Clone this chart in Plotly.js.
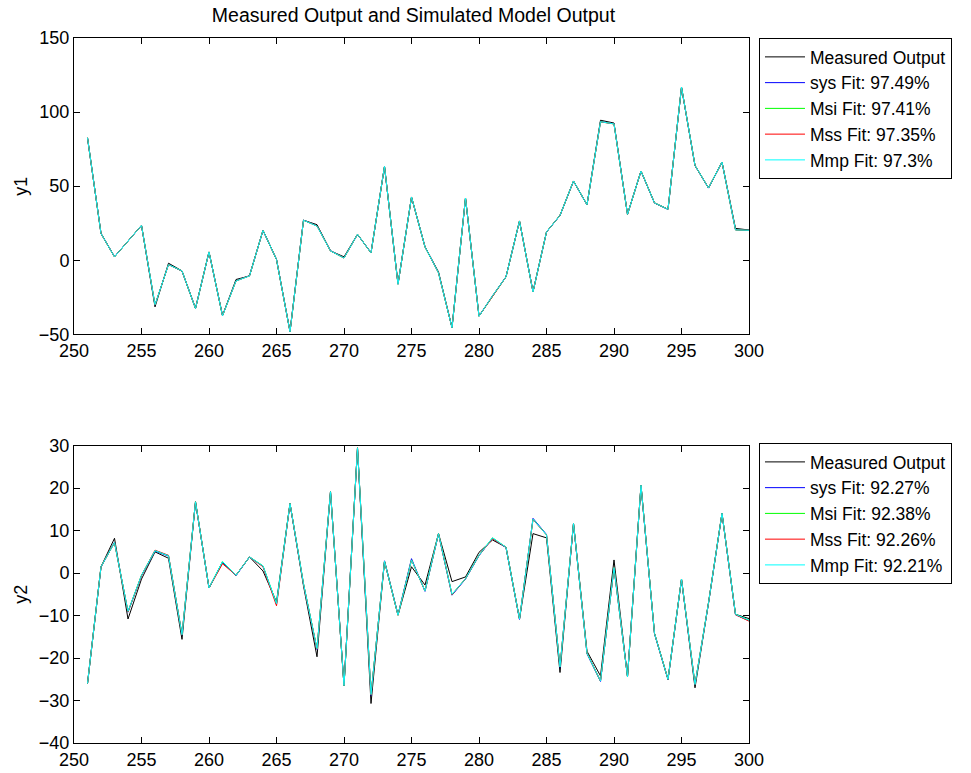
<!DOCTYPE html>
<html>
<head>
<meta charset="utf-8">
<script src="https://cdn.plot.ly/plotly-3.0.1.min.js"></script>
<style>html,body{margin:0;padding:0;background:#fff;}#chart{width:971px;height:773px;}</style>
</head>
<body>
<div id="chart"></div>
<script>
// sample index
const t = [251,252,253,254,255,256,257,258,259,260,261,262,263,264,265,266,267,268,269,270,
           271,272,273,274,275,276,277,278,279,280,281,282,283,284,285,286,287,288,289,290,
           291,292,293,294,295,296,297,298,299,300];

// ---- output y1 ----
const y1Measured = [82.7,18,2.3,13,23.6,-31.5,-2,-7.2,-32.6,5.6,-37.5,-13,-10.6,20.2,0.5,-48.3,27,24,6.3,2.3,
                    17.5,5,63.4,-16.2,42.7,9,-7.9,-45.6,42,-37.8,-24,-11.2,26.5,-21.4,19.1,30.3,53.5,37.5,94.5,92.6,
                    31,60.2,38.7,34.4,116.9,64,48.8,66.3,21.5,20.4];
const y1Sys = [82.5,18.2,2.4,13,23.4,-30.3,-2.8,-7.4,-32.4,5.5,-37.2,-13.8,-10.4,20.1,0.6,-48,27.1,23.3,6.4,1.6,
               17.4,5.1,63.2,-16,42.5,9.1,-8.4,-45.3,41.9,-37.6,-24.1,-11.1,26.4,-21.2,19,30.2,53.3,37.4,93.6,92.1,
               31.1,60.1,38.6,34.3,116.6,63.8,48.7,66.1,20.6,20.2];
const y1Msi = [82.6,18.1,2.3,13,23.5,-30.2,-2.9,-7.3,-32.5,5.6,-37.3,-13.9,-10.5,20.2,0.5,-48.1,27,23.2,6.3,1.5,
               17.5,5,63.3,-16.1,42.6,9,-8.5,-45.4,42,-37.7,-24,-11.2,26.5,-21.3,19.1,30.3,53.4,37.5,93.5,92,
               31,60.2,38.7,34.4,116.8,63.9,48.8,66.2,20.5,20.2];
const y1Mss = [82.6,18,2.3,13,23.5,-30.1,-3,-7.3,-32.5,5.6,-37.4,-14,-10.5,20.2,0.5,-48.2,27,23.1,6.3,1.5,
               17.5,5,63.3,-16.1,42.6,9,-8.5,-45.5,42,-37.7,-24,-11.2,26.5,-21.3,19.1,30.3,53.4,37.5,93.4,92,
               31,60.2,38.7,34.4,116.8,63.9,48.8,66.2,20.5,20.2];
const y1Mmp = [82.7,18,2.3,13,23.5,-30,-3,-7.2,-32.6,5.6,-37.5,-14,-10.6,20.2,0.5,-48.3,27,23,6.3,1.5,
               17.5,5,63.4,-16.2,42.7,9,-8.5,-45.6,42,-37.8,-24,-11.2,26.5,-21.4,19.1,30.3,53.5,37.5,93.5,92,
               31,60.2,38.7,34.4,116.9,64,48.8,66.3,20.5,20.2];

// ---- output y2 ----
const y2Measured = [-26,1.5,8.2,-10.8,-1.4,5,3.5,-15.6,16.8,-3.5,2.5,-0.5,3.8,0.5,-6.8,16.4,-3,-19.7,19.2,-26.5,
                    29.5,-30.7,2.8,-9.9,1.5,-2.8,9.3,-2,-0.9,4.9,7.8,6.1,-10.8,9.3,8.3,-23.4,11.7,-18.4,-24.2,3.1,
                    -24.4,20.7,-14.2,-25,-1.4,-27,-7,14.1,-9.7,-10.7];
const y2Sys = [-26,1.4,7.3,-9.2,-0.6,5.2,4,-14.6,16.7,-3.5,2.6,-0.6,3.8,1.6,-7.3,16.3,-2.6,-18,19.1,-26.4,
               29.4,-28.8,2.9,-9.8,3.4,-4.3,9.2,-5.2,-1.4,4.1,8.2,6,-10.9,12.9,9.1,-22.2,11.6,-19,-25.5,1.2,
               -24.3,20.6,-14.3,-25.1,-1.5,-26.3,-7.1,14,-9.8,-11.2];
const y2Msi = [-26,1.5,7.2,-9.1,-0.5,5.3,4.1,-14.5,16.8,-3.5,2.7,-0.5,3.8,1.7,-7.2,16.4,-2.5,-17.8,19.2,-26.5,
               29.5,-28.6,2.8,-9.9,3.1,-4.2,9.3,-5,-1.3,4.2,8.3,6.1,-10.8,12.7,9,-22.1,11.7,-18.9,-25.4,1.3,
               -24.4,20.7,-14.2,-25,-1.4,-26.2,-7,14.1,-9.7,-11.1];
const y2Mss = [-26,1.5,7.2,-9.1,-0.6,5.4,4.2,-14.5,16.8,-3.5,2.2,-0.5,3.8,1.5,-7.7,16.4,-2.6,-17.9,19.2,-26.5,
               29.5,-28.7,2.8,-9.9,3.1,-4.2,9.3,-5.1,-1.3,4.2,8.1,6.1,-10.8,12.6,9,-22.1,11.7,-18.9,-25.4,1.3,
               -24.4,20.7,-14.2,-25,-1.4,-26.2,-7,14.1,-9.8,-11.3];
const y2Mmp = [-26,1.5,7.2,-9,-0.5,5.3,4.1,-14.5,16.8,-3.5,2.7,-0.5,3.8,1.7,-7.2,16.4,-2.5,-17.8,19.2,-26.5,
               29.5,-28.6,2.8,-9.9,3.1,-4.2,9.3,-5,-1.3,4.2,8.3,6.1,-10.8,12.7,9,-22.1,11.7,-18.9,-25.4,1.3,
               -24.4,20.7,-14.2,-25,-1.4,-26.2,-7,14.1,-9.7,-11.1];

const names1 = ['Measured Output','sys Fit: 97.49%','Msi Fit: 97.41%','Mss Fit: 97.35%','Mmp Fit: 97.3%'];
const names2 = ['Measured Output','sys Fit: 92.27%','Msi Fit: 92.38%','Mss Fit: 92.26%','Mmp Fit: 92.21%'];
const colors = ['#000000','#0000ff','#00ff00','#ff0000','#00ffff'];

const series1 = [y1Measured, y1Sys, y1Msi, y1Mss, y1Mmp];
const series2 = [y2Measured, y2Sys, y2Msi, y2Mss, y2Mmp];

const traces = [];
series1.forEach((y, i) => traces.push({
  x: t, y: y, type: 'scatter', mode: 'lines', name: names1[i],
  line: {color: colors[i], width: 1}, xaxis: 'x', yaxis: 'y', legend: 'legend'
}));
series2.forEach((y, i) => traces.push({
  x: t, y: y, type: 'scatter', mode: 'lines', name: names2[i],
  line: {color: colors[i], width: 1}, xaxis: 'x2', yaxis: 'y2', legend: 'legend2'
}));

const FONT = 'Liberation Sans, Arial, Helvetica, sans-serif';
const axisCommon = {
  showline: true, linecolor: '#000', linewidth: 1, mirror: 'ticks',
  ticks: 'inside', ticklen: 6, tickcolor: '#000', showgrid: false, zeroline: false,
  tickfont: {family: FONT, size: 18, color: '#000'}
};
const legendCommon = {
  x: 1.0148, xanchor: 'left', yanchor: 'top',
  bgcolor: '#fff', bordercolor: '#000', borderwidth: 1,
  font: {family: FONT, size: 17.5, color: '#000'},
  tracegroupgap: 0, itemwidth: 40
};

const layout = {
  width: 971, height: 773,
  paper_bgcolor: '#fff', plot_bgcolor: '#fff',
  margin: {l: 74, r: 222, t: 38, b: 30},
  font: {family: FONT, color: '#000'},
  showlegend: true, hovermode: false,
  title: {text: 'Measured Output and Simulated Model Output', font: {family: FONT, size: 19.5, color: '#000'},
          x: 0.4258, xanchor: 'center', y: 0.981, yanchor: 'middle'},
  xaxis: Object.assign({}, axisCommon, {domain: [0, 1], anchor: 'y', range: [250, 300], tickvals: [250,255,260,265,270,275,280,285,290,295,300]}),
  yaxis: Object.assign({}, axisCommon, {domain: [0.5797, 1], anchor: 'x', range: [-50, 150], tickvals: [-50,0,50,100,150],
          title: {text: 'y1', font: {family: FONT, size: 18, color: '#000'}, standoff: 6}}),
  xaxis2: Object.assign({}, axisCommon, {domain: [0, 1], anchor: 'y2', range: [250, 300], tickvals: [250,255,260,265,270,275,280,285,290,295,300]}),
  yaxis2: Object.assign({}, axisCommon, {domain: [0, 0.4217], anchor: 'x2', range: [-40, 30], tickvals: [-40,-30,-20,-10,0,10,20,30],
          title: {text: 'y2', font: {family: FONT, size: 18, color: '#000'}, standoff: 6}}),
  legend: Object.assign({}, legendCommon, {y: 1.0}),
  legend2: Object.assign({}, legendCommon, {y: 0.4255})
};

Plotly.newPlot('chart', traces, layout, {staticPlot: true, displayModeBar: false});
</script>
</body>
</html>
